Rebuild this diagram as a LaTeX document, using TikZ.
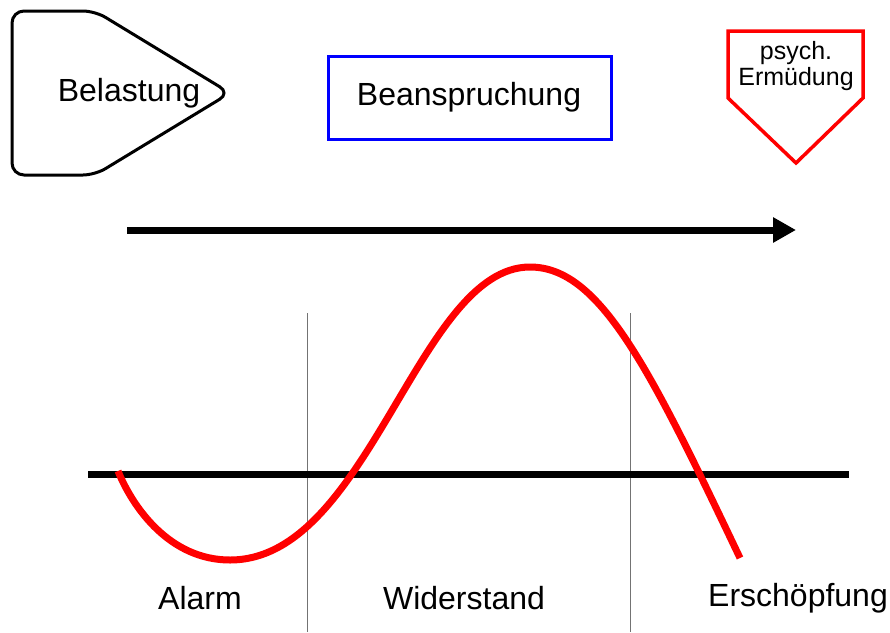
\documentclass[tikz,border=0pt]{standalone}
\usepackage{fontspec}
\setmainfont{Liberation Sans}
\usetikzlibrary{arrows.meta}
\begin{document}
\begin{tikzpicture}[x=1pt,y=-1pt,
  lbl/.style={inner sep=0pt,font=\fontsize{32}{38}\selectfont},
  small/.style={inner sep=0pt,align=center,font=\fontsize{25}{29}\selectfont},
  thick line/.style={line width=7pt},
  divider/.style={line width=1pt,draw=black!55}]
\useasboundingbox (0,0) rectangle (890,632);
% Belastung shape
\draw[line width=3pt,rounded corners=12pt] (12,93) -- (12,11) -- (95,11) -- (230,93) -- (95,175) -- (12,175) -- cycle;
\node[lbl] (belastung) at (129,93) {Belastung};
% Beanspruchung box
\draw[line width=3pt,draw=blue] (328,56) rectangle (611,139);
\node[lbl] (beanspruchung) at (469,97) {Beanspruchung};
% psych. Ermuedung pentagon
\draw[line width=3.5pt,draw=red] (728,31) -- (863,31) -- (863,98) -- (796,163) -- (728,98) -- cycle;
\node[small] (ermuedung) at (796,66) {psych.\\[-3pt]Ermüdung};
% big arrow
\coordinate (as) at (127,230);
\coordinate (ae) at (796,230);
\draw[thick line,-{Triangle[length=23pt,width=24pt]}] (as) -- (ae);
% dividers
\coordinate (d1t) at (307,313); \coordinate (d1b) at (307,632);
\coordinate (d2t) at (630,313); \coordinate (d2b) at (630,632);
\draw[divider] (d1t) -- (d1b);
\draw[divider] (d2t) -- (d2b);
% axis
\coordinate (x0) at (88,474); \coordinate (x1) at (849,474);
\draw[thick line] (x0) -- (x1);
% curve
\coordinate (c0) at (118,471);
\coordinate (cmin) at (230,560);
\coordinate (cmax) at (530,267);
\coordinate (cend) at (740,558);
\draw[red,line width=7pt] (c0) .. controls (133,508) and (170,560) .. (cmin)
  .. controls (369,560) and (418,267) .. (cmax)
  .. controls (600,267) and (650,369) .. (cend);
% labels
\node[lbl] (alarm) at (200,598) {Alarm};
\node[lbl] (widerstand) at (464,598) {Widerstand};
\node[lbl] (erschoepfung) at (798,598) {Erschöpfung};
\end{tikzpicture}
\end{document}
